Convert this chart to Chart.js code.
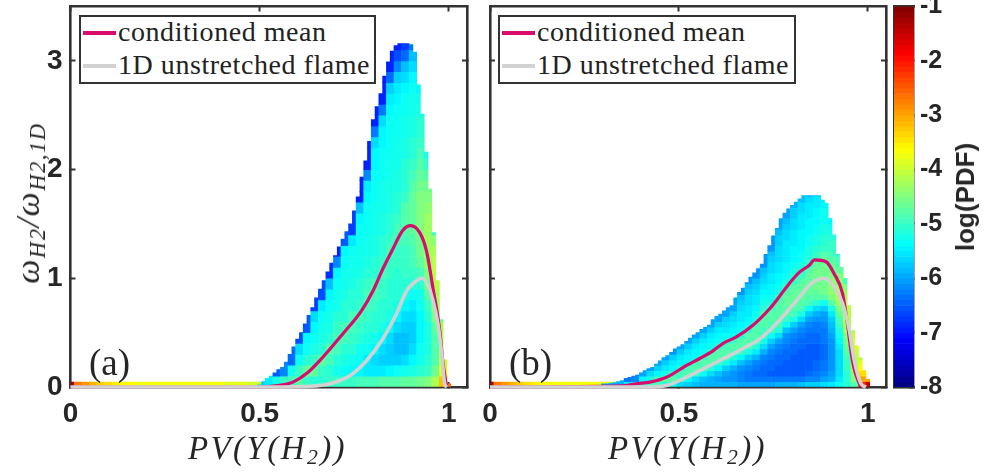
<!DOCTYPE html>
<html>
<head>
<meta charset="utf-8">
<title>PDF of H2 reaction rate</title>
<script src="https://cdn.jsdelivr.net/npm/chart.js@4"></script>
<style>
  body { margin: 0; background: #fff; width: 984px; height: 476px; overflow: hidden; position: relative; }
  canvas { position: absolute; top: 0; }
  .math { position: absolute; font-family: "Liberation Serif", serif; font-style: italic; color: #262626; white-space: nowrap; line-height: 1; }
  .math sub { font-size: 66%; vertical-align: -0.25em; line-height: 0; }
  .panel { position: absolute; font-family: "Liberation Serif", serif; font-size: 37px; color: #262626; line-height: 1; }
  .legend { position: absolute; top: 15px; height: 65px; box-sizing: content-box; border: 2.5px solid #333; background: #fff;
            font-family: "Liberation Serif", serif; font-size: 28px; color: #222; }
  .legend div { position: absolute; left: 37px; white-space: nowrap; line-height: 1; letter-spacing: 0.55px; }
  .legend span { position: absolute; left: 2px; width: 33px; height: 3.5px; }
  .cbar { position: absolute; font-family: "Liberation Sans", sans-serif; font-weight: bold; font-size: 26px; color: #262626; white-space: nowrap; line-height: 1; transform: translate(-50%,-50%) rotate(-90deg); }
</style>
</head>
<body>
<canvas id="panelA" width="477" height="476" style="left:0"></canvas>
<canvas id="panelB" width="419" height="476" style="left:477px"></canvas>
<canvas id="colorbar" width="98" height="476" style="left:886px"></canvas>

<div class="panel" style="left:89px;top:344px">(a)</div>
<div class="panel" style="left:509px;top:344px">(b)</div>
<div class="math" style="left:188px;top:432px;font-size:33px;letter-spacing:2.4px">PV(Y(H<sub>2</sub>))</div>
<div class="math" style="left:608px;top:432px;font-size:33px;letter-spacing:2.4px">PV(Y(H<sub>2</sub>))</div>
<div class="math" style="left:28px;top:203px;font-size:34px;letter-spacing:1.6px;transform:translate(-50%,-50%) rotate(-90deg)">&omega;<sub>H2</sub>/&omega;<sub>H2,1D</sub></div>
<div class="cbar" style="left:965px;top:197px">log(PDF)</div>

<script>
const TICK_COLOR = "#333";

// axes
const pvTicks = [0, 0.5, 1];
const rateTicks = [0, 1, 2, 3];
const logTicks = [-8, -7, -6, -5, -4, -3, -2, -1];
const seriesNames = ["conditioned mean", "1D unstretched flame"];
const seriesColors = ["#d90c6e", "#d2d2d2"];

// thin strip along y=0, every 0.02 in PV
const stripPv = [0, 0.02, 0.04, 0.06, 0.08, 0.1, 0.12, 0.14, 0.16, 0.18, 0.2, 0.22, 0.24, 0.26, 0.28, 0.3, 0.32, 0.34, 0.36, 0.38, 0.4, 0.42, 0.44, 0.46, 0.48, 0.5, 0.52, 0.54];
const stripLog = [-1.2, -2.7, -2.9, -3.1, -3.3, -3.4, -3.5, -3.6, -3.6, -3.7, -3.7, -3.7, -3.7, -3.7, -3.7, -3.7, -3.7, -3.7, -3.7, -3.7, -3.7, -3.8, -3.8, -3.8, -3.9, -4, -4.1, -4.2];

// panel (a): upper limit of the cloud, one value per 0.01 of PV starting at 0.50
const topA = [0.02, 0.05, 0.08, 0.1, 0.13, 0.16, 0.18, 0.23, 0.3, 0.37, 0.44, 0.5, 0.58, 0.66, 0.73, 0.82, 0.9, 0.98, 1.06, 1.14, 1.21, 1.29, 1.36, 1.43, 1.5, 1.62, 1.75, 1.93, 2.08, 2.26, 2.46, 2.58, 2.7, 2.86, 2.99, 3.09, 3.14, 3.16, 3.16, 3.16, 3.15, 3.08, 2.78, 2.51, 2.16, 1.82, 1.42, 0.98, 0.62, 0.25, 0.03];
// log(PDF), one list per 0.02 of PV, rows of 0.1 from y=0 upward
const logA = [
  [-5.7],
  [-5.5],
  [-5.2, -6.5],
  [-5.0, -6.2],
  [-4.9, -5.25, -6.4],
  [-4.8, -5.0, -5.3, -5.6, -6.6],
  [-5.0, -4.7, -5.1, -5.3, -5.4, -6.5],
  [-5.1, -4.7, -5.0, -5.2, -5.3, -5.4, -5.6, -6.7],
  [-5.1, -5.0, -4.7, -5.1, -5.2, -5.25, -5.3, -5.5, -6.6],
  [-5.0, -5.1, -4.9, -4.8, -5.1, -5.2, -5.25, -5.3, -5.4, -5.8, -6.8],
  [-5.0, -5.25, -5.1, -4.9, -4.9, -5.0, -5.1, -5.25, -5.25, -5.3, -5.4, -6.2, -6.9],
  [-5.0, -5.3, -5.2, -5.1, -4.9, -4.9, -5.1, -5.1, -5.2, -5.25, -5.25, -5.3, -5.4, -6.5],
  [-5.0, -5.4, -5.25, -5.1, -5.0, -4.9, -4.9, -5.1, -5.1, -5.2, -5.25, -5.25, -5.3, -5.5, -6.7],
  [-4.9, -5.4, -5.3, -5.25, -5.1, -5.0, -4.9, -5.0, -5.1, -5.1, -5.2, -5.25, -5.25, -5.3, -5.3, -5.4, -5.8, -6.9],
  [-4.9, -5.5, -5.5, -5.3, -5.2, -5.1, -5.0, -4.9, -4.9, -5.0, -5.1, -5.2, -5.25, -5.25, -5.3, -5.3, -5.3, -5.4, -5.5, -6.2, -6.9],
  [-4.9, -5.5, -5.6, -5.4, -5.25, -5.1, -5.1, -5.0, -4.9, -4.9, -5.1, -5.1, -5.2, -5.2, -5.25, -5.25, -5.25, -5.3, -5.3, -5.3, -5.4, -5.4, -5.6, -6.3, -6.9],
  [-4.8, -5.5, -5.7, -5.6, -5.4, -5.2, -5.1, -5.1, -5.0, -5.0, -4.9, -5.0, -5.1, -5.1, -5.2, -5.2, -5.25, -5.25, -5.25, -5.3, -5.3, -5.3, -5.4, -5.4, -5.6, -6.3, -6.9],
  [-4.8, -5.4, -5.7, -5.7, -5.6, -5.4, -5.2, -5.1, -5.1, -5.1, -5.0, -5.0, -4.9, -5.0, -5.1, -5.1, -5.2, -5.2, -5.2, -5.25, -5.25, -5.3, -5.3, -5.3, -5.3, -5.4, -5.5, -5.7, -6.4, -6.9],
  [-4.8, -5.3, -5.7, -5.8, -5.8, -5.6, -5.4, -5.2, -5.1, -5.1, -5.1, -5.0, -5.0, -4.9, -4.9, -5.0, -5.1, -5.1, -5.2, -5.2, -5.25, -5.25, -5.25, -5.3, -5.3, -5.3, -5.4, -5.5, -5.7, -6.2, -6.6, -6.9],
  [-4.7, -5.25, -5.6, -5.8, -5.8, -5.7, -5.6, -5.4, -5.2, -5.1, -5.0, -5.0, -5.0, -4.9, -4.8, -4.8, -4.8, -5.0, -5.1, -5.1, -5.1, -5.2, -5.2, -5.25, -5.25, -5.3, -5.3, -5.4, -5.6, -5.8, -6.4, -6.7],
  [-4.7, -5.2, -5.4, -5.6, -5.7, -5.7, -5.6, -5.5, -5.3, -5.1, -5.0, -4.9, -4.9, -4.8, -4.7, -4.7, -4.7, -4.7, -4.8, -4.9, -5.0, -5.1, -5.1, -5.2, -5.2, -5.25, -5.25, -5.3, -5.4, -5.6, -5.8, -6.3],
  [-4.6, -5.1, -5.25, -5.3, -5.4, -5.4, -5.4, -5.3, -5.25, -5.1, -4.9, -4.7, -4.6, -4.6, -4.5, -4.5, -4.5, -4.5, -4.6, -4.7, -4.8, -4.9, -5.0, -5.1, -5.1, -5.2, -5.25, -5.4],
  [-4.5, -5.0, -5.1, -5.2, -5.2, -5.2, -5.1, -5.0, -4.8, -4.6, -4.5, -4.4, -4.3, -4.3, -4.3, -4.3, -4.4, -4.5, -4.6, -4.8, -5.0, -5.2],
  [-4.2, -4.6, -4.8, -4.8, -4.8, -4.7, -4.5, -4.3, -4.2, -4.1, -4.1, -4.1, -4.2, -4.4, -5.0],
  [-3.2, -3.8, -4.0, -4.0, -4.1, -4.2, -4.6],
  [-2.6]
];
const meanPvA = [0, 0.5, 0.562, 0.588, 0.628, 0.667, 0.72, 0.769, 0.8, 0.826, 0.852, 0.878, 0.899, 0.923, 0.941, 0.958, 0.976, 0.984, 0.994];
const meanA = [0, 0, 0.02, 0.045, 0.136, 0.274, 0.49, 0.7, 0.887, 1.09, 1.27, 1.44, 1.485, 1.42, 1.25, 0.91, 0.52, 0.24, 0];
const flamePvA = [0, 0.5, 0.633, 0.686, 0.739, 0.783, 0.826, 0.862, 0.889, 0.915, 0.93, 0.945, 0.958, 0.971, 0.981, 0.989, 0.995];
const flameA = [0, 0, 0.007, 0.03, 0.106, 0.244, 0.446, 0.676, 0.888, 0.98, 1, 0.934, 0.796, 0.584, 0.308, 0.03, 0];

// panel (b): same thing, PV starts at 0.30, rows of 0.05
const topB = [0.03, 0.03, 0.035, 0.04, 0.05, 0.06, 0.08, 0.09, 0.1, 0.11, 0.13, 0.15, 0.17, 0.18, 0.21, 0.24, 0.27, 0.29, 0.32, 0.35, 0.37, 0.39, 0.42, 0.45, 0.48, 0.5, 0.53, 0.55, 0.57, 0.62, 0.65, 0.67, 0.7, 0.73, 0.75, 0.82, 0.87, 0.91, 0.96, 1.01, 1.05, 1.09, 1.13, 1.22, 1.3, 1.39, 1.46, 1.55, 1.6, 1.64, 1.67, 1.7, 1.73, 1.76, 1.76, 1.76, 1.76, 1.76, 1.72, 1.69, 1.55, 1.4, 1.22, 1.1, 1.0, 0.75, 0.52, 0.38, 0.27, 0.15, 0.07];
const logB = [
  [-6.0],
  [-5.9],
  [-5.9],
  [-5.5, -6.3],
  [-5.2, -6.2],
  [-5.0, -5.4, -6.0],
  [-4.9, -5.2, -5.6, -6.0],
  [-4.9, -4.9, -5.4, -5.7, -6.0],
  [-5.1, -4.7, -5.2, -5.5, -5.7, -6.0],
  [-5.3, -4.8, -5.0, -5.4, -5.5, -5.7, -6.1],
  [-5.6, -5.0, -4.9, -5.1, -5.4, -5.5, -5.7, -6.0],
  [-5.7, -5.3, -4.8, -4.9, -5.3, -5.4, -5.5, -5.7, -6.0],
  [-5.8, -5.6, -5.0, -4.8, -4.9, -5.3, -5.4, -5.5, -5.7, -6.0],
  [-5.9, -5.8, -5.3, -4.9, -4.8, -5.0, -5.3, -5.4, -5.5, -5.7, -6.0],
  [-5.9, -5.9, -5.6, -5.1, -4.8, -4.8, -5.0, -5.3, -5.4, -5.5, -5.7, -6.0],
  [-5.9, -6.0, -5.8, -5.4, -5.0, -4.8, -4.8, -5.1, -5.3, -5.4, -5.5, -5.7, -6.0],
  [-5.9, -6.1, -6.0, -5.7, -5.2, -4.9, -4.8, -4.9, -5.2, -5.3, -5.5, -5.6, -5.7, -6.0],
  [-5.9, -6.1, -6.1, -5.9, -5.5, -5.1, -4.9, -4.8, -5.0, -5.3, -5.4, -5.5, -5.6, -5.7, -6.0],
  [-6.0, -6.2, -6.2, -6.1, -5.8, -5.4, -5.0, -4.8, -4.8, -5.1, -5.3, -5.4, -5.5, -5.5, -5.6, -5.7, -5.8, -6.1],
  [-6.0, -6.3, -6.3, -6.2, -6.0, -5.7, -5.2, -4.9, -4.8, -4.8, -5.1, -5.3, -5.4, -5.5, -5.5, -5.6, -5.6, -5.7, -5.8, -6.1],
  [-6.0, -6.3, -6.4, -6.3, -6.2, -5.9, -5.5, -5.1, -4.9, -4.8, -4.8, -4.9, -5.2, -5.3, -5.4, -5.5, -5.5, -5.6, -5.7, -5.8, -6.1],
  [-6.0, -6.3, -6.4, -6.4, -6.3, -6.2, -5.9, -5.6, -5.2, -5.0, -4.9, -4.8, -4.8, -4.8, -5.1, -5.2, -5.3, -5.4, -5.5, -5.6, -5.7, -5.8, -6.1],
  [-6.0, -6.3, -6.5, -6.4, -6.4, -6.3, -6.2, -6.0, -5.7, -5.3, -5.0, -4.9, -4.8, -4.8, -4.9, -5.2, -5.3, -5.4, -5.4, -5.5, -5.5, -5.6, -5.6, -5.7, -5.8, -6.1],
  [-5.9, -6.3, -6.5, -6.5, -6.4, -6.4, -6.3, -6.2, -6.0, -5.6, -5.1, -4.9, -4.8, -4.8, -4.8, -4.8, -5.0, -5.2, -5.3, -5.4, -5.4, -5.5, -5.5, -5.6, -5.6, -5.6, -5.7, -5.7, -5.8, -6.0],
  [-5.9, -6.3, -6.5, -6.5, -6.5, -6.4, -6.4, -6.3, -6.2, -6.1, -5.8, -5.3, -5.0, -4.8, -4.8, -4.7, -4.7, -4.8, -5.0, -5.2, -5.3, -5.4, -5.4, -5.5, -5.5, -5.5, -5.5, -5.6, -5.6, -5.7, -5.8, -6.0],
  [-5.9, -6.3, -6.5, -6.5, -6.5, -6.5, -6.4, -6.4, -6.3, -6.2, -6.0, -5.7, -5.2, -4.9, -4.8, -4.7, -4.7, -4.7, -4.8, -5.0, -5.1, -5.2, -5.3, -5.4, -5.4, -5.4, -5.5, -5.5, -5.5, -5.6, -5.6, -5.7, -5.7, -5.9],
  [-5.8, -6.3, -6.5, -6.5, -6.5, -6.5, -6.5, -6.4, -6.4, -6.3, -6.2, -6.0, -5.6, -5.2, -4.9, -4.8, -4.7, -4.7, -4.7, -4.8, -5.0, -5.1, -5.2, -5.3, -5.3, -5.4, -5.4, -5.4, -5.4, -5.5, -5.5, -5.5, -5.6, -5.6, -5.8],
  [-5.7, -6.2, -6.4, -6.5, -6.5, -6.5, -6.5, -6.5, -6.4, -6.4, -6.3, -6.2, -6.0, -5.7, -5.3, -4.9, -4.8, -4.7, -4.7, -4.7, -4.7, -4.8, -5.0, -5.1, -5.2, -5.2, -5.3, -5.3, -5.4, -5.4, -5.4, -5.5, -5.5, -5.5, -5.6, -5.8],
  [-5.7, -6.2, -6.3, -6.4, -6.4, -6.5, -6.5, -6.5, -6.4, -6.4, -6.3, -6.3, -6.1, -5.9, -5.6, -5.1, -4.8, -4.7, -4.6, -4.6, -4.6, -4.6, -4.7, -4.9, -5.0, -5.1, -5.2, -5.2, -5.3, -5.3, -5.4, -5.4, -5.4, -5.5, -5.5, -5.7],
  [-5.6, -6.0, -6.2, -6.3, -6.3, -6.4, -6.4, -6.4, -6.3, -6.3, -6.3, -6.2, -6.1, -6.0, -5.7, -5.3, -4.8, -4.6, -4.6, -4.6, -4.6, -4.6, -4.6, -4.7, -4.8, -5.0, -5.1, -5.1, -5.2, -5.2, -5.3, -5.3, -5.3, -5.4, -5.5],
  [-5.5, -5.9, -6.0, -6.1, -6.1, -6.1, -6.1, -6.1, -6.1, -6.0, -5.9, -5.8, -5.7, -5.5, -5.2, -4.8, -4.5, -4.4, -4.4, -4.4, -4.5, -4.6, -4.7, -4.8, -4.9, -5.0, -5.0, -5.1, -5.2, -5.3, -5.4, -5.6],
  [-5.3, -5.5, -5.6, -5.6, -5.6, -5.6, -5.6, -5.5, -5.4, -5.3, -5.2, -5.0, -4.9, -4.7, -4.5, -4.3, -4.2, -4.2, -4.3, -4.4, -4.5, -4.7, -4.8, -4.9, -5.1],
  [-5.1, -5.1, -5.1, -5.0, -5.0, -4.9, -4.8, -4.7, -4.6, -4.5, -4.3, -4.2, -4.1, -4.1, -4.1, -4.1, -4.2, -4.3, -4.5, -4.9],
  [-4.8, -4.5, -4.4, -4.3, -4.2, -4.1, -4.0, -3.9, -3.9, -4.0, -4.2],
  [-2.2, -3.0, -3.4, -3.6, -3.8, -4.1],
  [-1.5, -3.0]
];
const meanPvB = [0, 0.35, 0.388, 0.423, 0.467, 0.52, 0.555, 0.589, 0.616, 0.652, 0.695, 0.74, 0.761, 0.787, 0.819, 0.845, 0.859, 0.89, 0.911, 0.933, 0.946, 0.959, 0.978, 0.99];
const meanB = [0, 0.01, 0.03, 0.045, 0.09, 0.198, 0.262, 0.33, 0.4, 0.46, 0.565, 0.72, 0.81, 0.93, 1.056, 1.12, 1.17, 1.15, 1.04, 0.86, 0.58, 0.245, 0.03, 0];
const flamePvB = [0, 0.414, 0.467, 0.52, 0.573, 0.608, 0.668, 0.713, 0.757, 0.81, 0.853, 0.885, 0.911, 0.933, 0.951, 0.964, 0.982, 0.995];
const flameB = [0, 0, 0.014, 0.09, 0.182, 0.244, 0.35, 0.44, 0.58, 0.79, 0.96, 1, 0.92, 0.77, 0.52, 0.245, 0.03, 0];

// colorbar steps
const barLevels = [-8, -7.9, -7.8, -7.7, -7.6, -7.5, -7.4, -7.3, -7.2, -7.1, -7, -6.9, -6.8, -6.7, -6.6, -6.5, -6.4, -6.3, -6.2, -6.1, -6, -5.9, -5.8, -5.7, -5.6, -5.5, -5.4, -5.3, -5.2, -5.1, -5, -4.9, -4.8, -4.7, -4.6, -4.5, -4.4, -4.3, -4.2, -4.1, -4, -3.9, -3.8, -3.7, -3.6, -3.5, -3.4, -3.3, -3.2, -3.1, -3, -2.9, -2.8, -2.7, -2.6, -2.5, -2.4, -2.3, -2.2, -2.1, -2, -1.9, -1.8, -1.7, -1.6, -1.5, -1.4, -1.3, -1.2, -1.1];

// jet colormap, -8 to -1
function jet(logValue) {
  const t = Math.min(1, Math.max(0, (logValue + 8) / 7));
  const ramp = (c) => Math.round(255 * Math.min(1, Math.max(0, 1.5 - Math.abs(4 * t - c))));
  return `rgb(${ramp(3)},${ramp(2)},${ramp(1)})`;
}

function forcedAxis(position, size, ticks, extra) {
  const axis = {
    type: "linear",
    position: position,
    offset: false,
    grid: { drawOnChartArea: false, offset: false, tickLength: -5, tickWidth: 2, tickColor: TICK_COLOR },
    border: { color: TICK_COLOR, width: 2.6 },
    ticks: { display: false, autoSkip: false, maxRotation: 0, callback: (v) => String(v) },
    afterBuildTicks: (scale) => { scale.ticks = ticks.map((v) => ({ value: v })); },
    afterFit: (scale) => {
      if (position === "left" || position === "right") scale.width = size;
      else scale.height = size;
      // the tick labels must not push the plot area around
      scale.paddingTop = 0;
      scale.paddingBottom = 0;
      scale.paddingLeft = 0;
      scale.paddingRight = 0;
    },
  };
  return Object.assign(axis, extra);
}

const labelTicks = (padding, size) => ({
  display: true, autoSkip: false, maxRotation: 0, padding: padding, color: "#262626",
  font: { family: "Liberation Sans", weight: "bold", size: size },
  callback: (v) => String(v),
});

function buildCells(firstPv, rowHeight, tops, columns) {
  const cells = [];
  const colors = [];
  for (let k = 0; k < tops.length; k++) {
    const x = firstPv + k * 0.01;
    const rows = columns[Math.floor(k / 2)];
    for (let r = 0; r * rowHeight < tops[k]; r++) {
      const value = r < rows.length ? rows[r] : rows[rows.length - 1];
      cells.push({ x: x, y: [r * rowHeight, Math.min(tops[k], (r + 1) * rowHeight)] });
      colors.push(jet(value));
    }
  }
  return { cells, colors };
}

function zip(xs, ys) {
  return xs.map((x, i) => ({ x: x, y: ys[i] }));
}

function drawPanel(id, firstPv, rowHeight, tops, columns, stripCount, meanPv, mean, flamePv, flame, leftWidth, rightWidth, showRate) {
  const heat = buildCells(firstPv, rowHeight, tops, columns);
  const strip = stripPv.slice(0, stripCount).map((x) => ({ x: x, y: [0, 0.045] }));
  new Chart(document.getElementById(id), {
    type: "bar",
    data: {
      datasets: [
        { type: "line", label: seriesNames[1], data: zip(flamePv, flame), borderColor: seriesColors[1], borderWidth: 3.6, pointRadius: 0, cubicInterpolationMode: "monotone", clip: false, order: 0 },
        { type: "line", label: seriesNames[0], data: zip(meanPv, mean), borderColor: seriesColors[0], borderWidth: 3.2, pointRadius: 0, cubicInterpolationMode: "monotone", clip: false, order: 1 },
        { label: "log(PDF)", data: heat.cells, backgroundColor: heat.colors, barThickness: 3.785, grouped: false, order: 2 },
        { label: "strip", data: strip, backgroundColor: stripLog.slice(0, stripCount).map(jet), barThickness: 7.57, grouped: false, order: 3 },
      ],
    },
    options: {
      responsive: false,
      animation: false,
      layout: { padding: 0 },
      plugins: { legend: { display: false }, tooltip: { enabled: false } },
      scales: {
        x: forcedAxis("bottom", 89, pvTicks, { min: 0, max: 1.048, ticks: labelTicks(15, 28) }),
        y: forcedAxis("left", leftWidth, rateTicks, { min: 0, max: 3.5, ticks: showRate ? labelTicks(13, 28) : { display: false } }),
        xTop: forcedAxis("top", 6.5, pvTicks, { min: 0, max: 1.048, axis: "x" }),
        yRight: forcedAxis("right", rightWidth, rateTicks, { min: 0, max: 3.5, axis: "y" }),
      },
    },
  });
}

drawPanel("panelA", 0.5, 0.1, topA, logA, 28, meanPvA, meanA, flamePvA, flameA, 70.5, 10, true);
drawPanel("panelB", 0.3, 0.05, topB, logB, 22, meanPvB, meanB, flamePvB, flameB, 13, 10, false);

// colorbar
new Chart(document.getElementById("colorbar"), {
  type: "bar",
  data: {
    datasets: [{
      label: "log(PDF)",
      data: barLevels.map((v) => ({ x: 0, y: [v, v + 0.1] })),
      backgroundColor: barLevels.map((v) => jet(v + 0.05)),
      barThickness: 21,
      grouped: false,
    }],
  },
  options: {
    responsive: false,
    animation: false,
    layout: { padding: 0 },
    plugins: { legend: { display: false }, tooltip: { enabled: false } },
    scales: {
      x: forcedAxis("bottom", 89, [], { min: -0.5, max: 0.5 }),
      y: forcedAxis("left", 8, [], { min: -8, max: -1 }),
      xTop: forcedAxis("top", 6.5, [], { min: -0.5, max: 0.5, axis: "x" }),
      yRight: forcedAxis("right", 70, logTicks, { min: -8, max: -1, axis: "y", ticks: labelTicks(11, 25), border: { color: "#444", width: 1.5 } }),
    },
  },
});

// legends, html boxes inside the panels
function addLegend(left, width) {
  const box = document.createElement("div");
  box.className = "legend";
  box.style.left = left + "px";
  box.style.width = width + "px";
  seriesNames.forEach((name, i) => {
    const swatch = document.createElement("span");
    swatch.style.top = 14 + i * 33 + "px";
    swatch.style.background = seriesColors[i];
    const text = document.createElement("div");
    text.style.top = 1 + i * 33 + "px";
    text.textContent = name;
    box.appendChild(swatch);
    box.appendChild(text);
  });
  document.body.appendChild(box);
}
addLegend(79, 293);
addLegend(498, 294);
</script>
</body>
</html>
